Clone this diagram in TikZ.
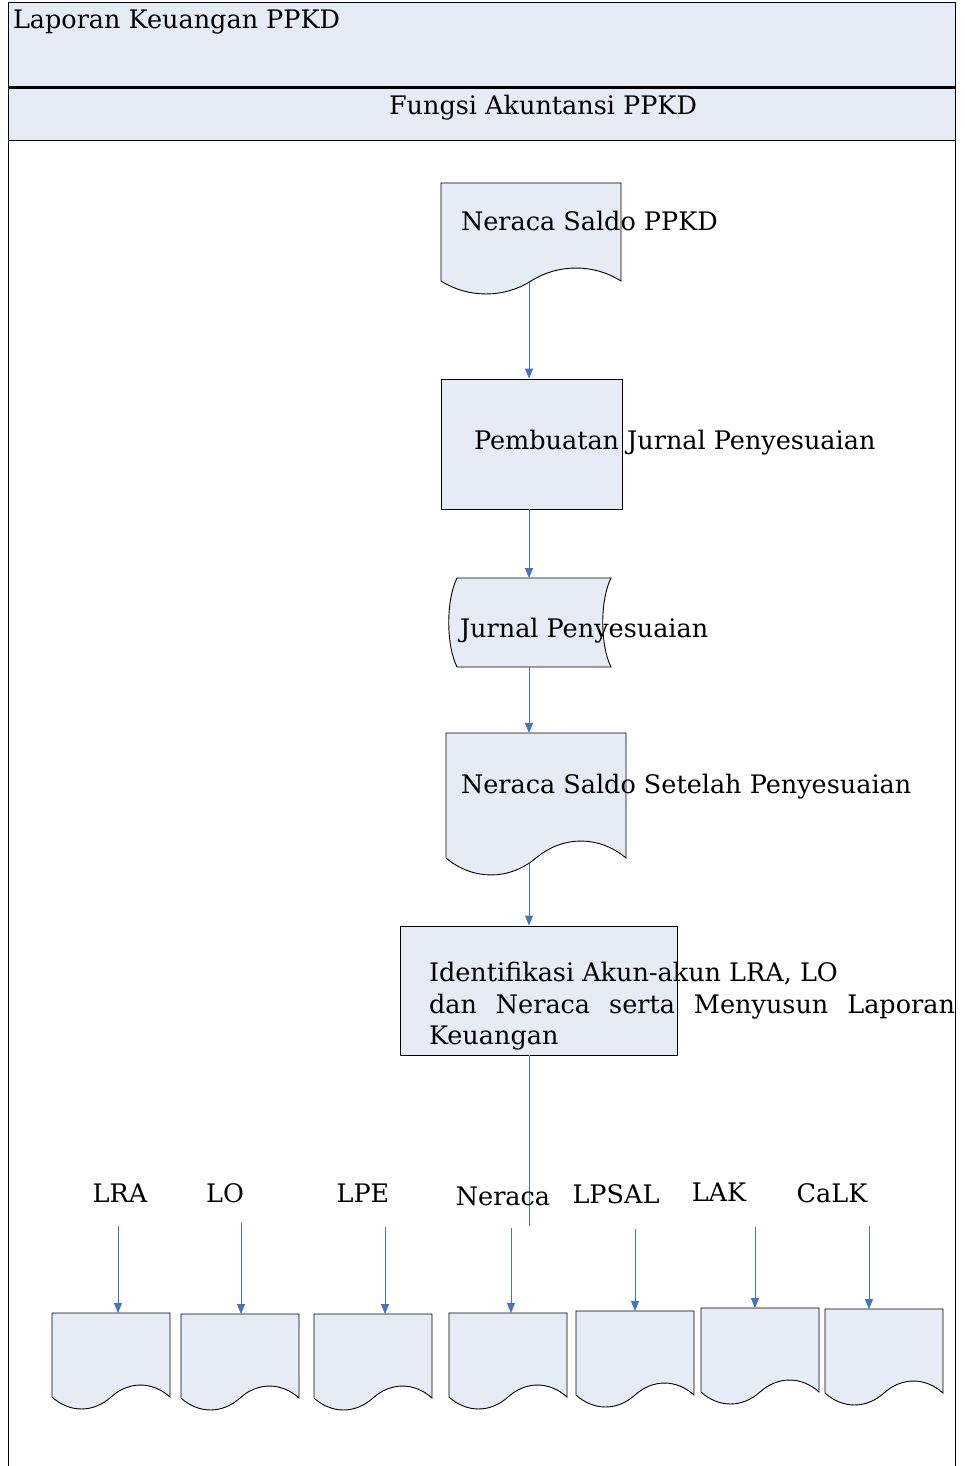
\documentclass[tikz,border=0pt]{standalone}
\usepackage{fontspec}
\setmainfont{DejaVu Serif}
\usetikzlibrary{arrows.meta}
\definecolor{boxfill}{HTML}{E6ECF6}
\definecolor{arrowblue}{HTML}{4472C4}
\tikzset{
  shapeline/.style={draw=black, line width=0.9pt, fill=boxfill},
  flowarrow/.style={draw=arrowblue, line width=1pt, -{Triangle[length=10pt,width=8pt]}},
  flowline/.style={draw=arrowblue, line width=1pt},
  lbl/.style={inner sep=0pt, outer sep=0pt, font=\fontsize{25.5}{31.5}\selectfont},
  ghost/.style={inner sep=0pt, outer sep=0pt, draw=none}
}
% name, x0, ytop, x1, ybottom, wave amplitude
\newcommand{\docshape}[6]{%
  \node[ghost, minimum width={(#4-#2)*1pt}, minimum height={(#5-#3)*1pt}] (#1) at ({(#2+#4)/2},{(#3+#5)/2}) {};
  \filldraw[shapeline] (#2,#3) -- (#4,#3) -- (#4,#5)
    .. controls ({#4-0.15*(#4-#2)},{#5-1.33*#6}) and ({#4-0.35*(#4-#2)},{#5-1.33*#6}) .. ({(#2+#4)/2},#5)
    .. controls ({#2+0.35*(#4-#2)},{#5+1.33*#6}) and ({#2+0.15*(#4-#2)},{#5+1.33*#6}) .. (#2,#5) -- cycle;
}
\begin{document}
\begin{tikzpicture}[x=1pt,y=-1pt]
\useasboundingbox (0,0) rectangle (965,1466);
\fill[white] (0,0) rectangle (965,1466);
% header bands
\fill[boxfill] (8,3) rectangle (955,141);
\draw[line width=1pt] (8,1466) -- (8,3) -- (955,3) -- (955,1466);
\draw[line width=3pt] (8,88) -- (955,88);
\draw[line width=1pt] (8,141) -- (955,141);
\node[lbl, anchor=base west] (title) at (13,29) {Laporan Keuangan PPKD};
\node[lbl, anchor=base] (lane) at (543,115) {Fungsi Akuntansi PPKD};

% step 1: document
\docshape{n1}{441}{183}{621}{281}{13}
\node[lbl, anchor=base west] (t1) at (461,230) {Neraca Saldo PPKD};

% step 2: process
\node[shapeline, rectangle, minimum width=181pt, minimum height=130pt, inner sep=0pt] (n2) at (531.5,444) {};
\node[lbl, anchor=base west] (t2) at (474,449) {Pembuatan Jurnal Penyesuaian};

% step 3: stored data
\node[ghost, minimum width=164pt, minimum height=89pt] (n3) at (529,622.5) {};
\filldraw[shapeline] (457,578) -- (611,578) .. controls (600,600) and (600,645) .. (611,667)
  -- (457,667) .. controls (446,645) and (446,600) .. (457,578) -- cycle;
\node[lbl, anchor=base west] (t3) at (460,637) {Jurnal Penyesuaian};

% step 4: document
\docshape{n4}{446}{733}{626}{858}{17}
\node[lbl, anchor=base west] (t4) at (461,793) {Neraca Saldo Setelah Penyesuaian};

% step 5: process
\node[shapeline, rectangle, minimum width=277pt, minimum height=129pt, inner sep=0pt] (n5) at (538.5,990.5) {};
\node[lbl, anchor=base west, align=left] (t5) at (429,981) {Identifikasi Akun-akun LRA, LO};
\node[lbl, anchor=base west] (t5b) at (429,1013) {\makebox[526pt][s]{dan\hfill Neraca\hfill serta\hfill Menyusun\hfill Laporan}};
\node[lbl, anchor=base west] (t5c) at (429,1044) {Keuangan};

% connectors
\coordinate (c1) at ([yshift=-2pt]n1.south -| 529,0);
\coordinate (c4) at ([yshift=-6pt]n4.south -| 529,0);
\draw[flowarrow] (c1) -- (c1 |- n2.north);
\draw[flowarrow] (c1 |- n2.south) -- (c1 |- n3.north);
\draw[flowarrow] (c1 |- n3.south) -- (c1 |- n4.north);
\draw[flowarrow] (c4) -- (c4 |- n5.north);
\coordinate (split) at (529,1226);
\draw[flowline] (c1 |- n5.south) -- (split);

% bottom reports
\docshape{d1}{52}{1313}{170}{1397}{12}
\docshape{d2}{181}{1314}{299}{1398}{12}
\docshape{d3}{314}{1314}{432}{1398}{12}
\docshape{d4}{449}{1313}{567}{1397}{12}
\docshape{d5}{576}{1311}{694}{1395}{12}
\docshape{d6}{701}{1308}{819}{1392}{12}
\docshape{d7}{825}{1309}{943}{1393}{12}

\node[lbl, anchor=base] (l1) at (120,1202) {LRA};
\node[lbl, anchor=base] (l2) at (225,1202) {LO};
\node[lbl, anchor=base] (l3) at (363,1202) {LPE};
\node[lbl, anchor=base] (l4) at (503,1205) {Neraca};
\node[lbl, anchor=base] (l5) at (616,1203) {LPSAL};
\node[lbl, anchor=base] (l6) at (719,1201) {LAK};
\node[lbl, anchor=base] (l7) at (832,1202) {CaLK};

\coordinate (s1) at (118,1226);
\coordinate (s2) at (241,1223);
\coordinate (s3) at (385,1227);
\coordinate (s4) at (511,1228);
\coordinate (s5) at (635,1229);
\coordinate (s6) at (755,1227);
\coordinate (s7) at (869,1226);
\draw[flowarrow] (s1) -- (s1 |- d1.north);
\draw[flowarrow] (s2) -- (s2 |- d2.north);
\draw[flowarrow] (s3) -- (s3 |- d3.north);
\draw[flowarrow] (s4) -- (s4 |- d4.north);
\draw[flowarrow] (s5) -- (s5 |- d5.north);
\draw[flowarrow] (s6) -- (s6 |- d6.north);
\draw[flowarrow] (s7) -- (s7 |- d7.north);
\end{tikzpicture}
\end{document}
